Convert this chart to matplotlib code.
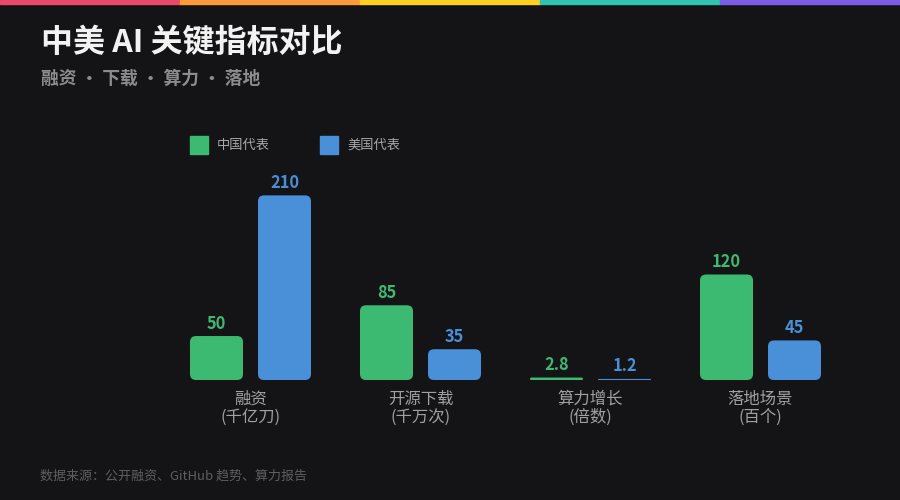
import matplotlib.pyplot as plt
from matplotlib.patches import FancyBboxPatch, Rectangle

plt.rcParams['font.family'] = ['Noto Sans CJK SC', 'DejaVu Sans']

# data
categories = ['融资\n(千亿刀)', '开源下载\n(千万次)', '算力增长\n(倍数)', '落地场景\n(百个)']
china = [50, 85, 2.8, 120]
usa = [210, 35, 1.2, 45]
china_labels = ['50', '85', '2.8', '120']
usa_labels = ['210', '35', '1.2', '45']
series_names = ['中国代表', '美国代表']

BG = '#141416'
GREEN = '#3dba72'
BLUE = '#4a90d9'
stripe = ['#e84a67', '#ff9a3c', '#ffd21f', '#2ec4b0', '#7a5ce6']

fig = plt.figure(figsize=(9, 5), dpi=100, facecolor=BG)

# top colour stripe
for i, c in enumerate(stripe):
    fig.patches.append(Rectangle((i / 5, 1 - 4 / 500), 1 / 5, 4 / 500,
                                 transform=fig.transFigure, color=c, zorder=5))

fig.text(41 / 900, 1 - 43 / 500, '中美 AI 关键指标对比', color='#f2f2f2',
         fontsize=23, fontweight='bold', va='center', ha='left')
fig.text(41 / 900, 1 - 79 / 500, '融资 · 下载 · 算力 · 落地', color='#8c8c8c',
         fontsize=12.8, fontweight='bold', va='center', ha='left')
fig.text(40 / 900, 1 - 476 / 500, '数据来源：公开融资、GitHub 趋势、算力报告',
         color='#5e5e5e', fontsize=9.4, va='center', ha='left')

# legend
for j, (name, c) in enumerate(zip(series_names, [GREEN, BLUE])):
    x0 = 190 + j * 130
    fig.patches.append(Rectangle((x0 / 900, 1 - 154 / 500), 18 / 900, 18 / 500,
                                 transform=fig.transFigure, color=c))
    fig.text((x0 + 27) / 900, 1 - 145 / 500, name, color='#a8a8a8',
             fontsize=9.5, va='center', ha='left')

# axes: 170 px per category, baseline at y=380
ax = fig.add_axes([165.5 / 900, 120 / 500, 680 / 900, 211 / 500])
ax.set_facecolor(BG)
ax.set_xlim(-0.5, 3.5)
ax.set_ylim(0, 240)
for s in ax.spines.values():
    s.set_visible(False)
ax.set_yticks([])
ax.set_xticks(range(len(categories)))
ax.set_xticklabels(categories, color='#a0a0a0', fontsize=11.8, fontweight='medium',
                   linespacing=1.1)
ax.tick_params(axis='x', length=0, pad=7.5)

px_x = 680 / 4      # px per x unit
px_y = 211 / 240    # px per y unit
w = 53 / px_x
off = 34 / px_x
xs = range(len(categories))

for vals, labels, c, sign in [(china, china_labels, GREEN, -1), (usa, usa_labels, BLUE, 1)]:
    bars = ax.bar([x + sign * off for x in xs], vals, width=w, color=c)
    for b, lab in zip(bars, labels):
        x0, h = b.get_x(), b.get_height()
        b.remove()
        r_px = min(6, h * px_y / 2)
        patch = FancyBboxPatch((x0, 0), w, h,
                               boxstyle='round,pad=0,rounding_size=%f' % (r_px / px_x),
                               mutation_aspect=px_x / px_y,
                               facecolor=c, edgecolor='none')
        ax.add_patch(patch)
        ax.annotate(lab, (x0 + w / 2, h), xytext=(0, 2.5), textcoords='offset points',
                    ha='center', va='bottom', color=c, fontsize=11.8, fontweight='bold')

fig.savefig('out.png', dpi=100, facecolor=BG)
